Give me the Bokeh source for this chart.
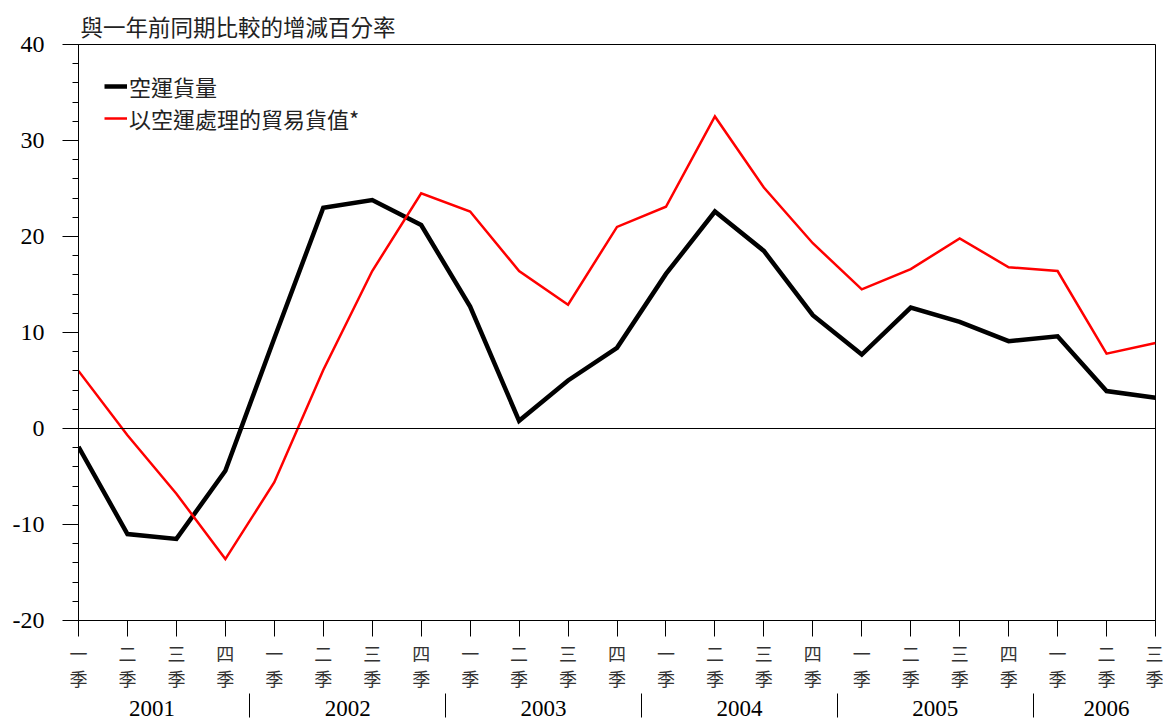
from bokeh.plotting import figure
from bokeh.models import Range1d, FixedTicker, LinearAxis, Span, Legend, LegendItem
from bokeh.embed import file_html
from bokeh.resources import INLINE

# ---- data ----
quarters = ["一\n季", "二\n季", "三\n季", "四\n季"] * 5 + ["一\n季", "二\n季", "三\n季"]
years = ["2001", "2002", "2003", "2004", "2005", "2006"]
year_centers = [1.5, 5.5, 9.5, 13.5, 17.5, 21.0]
year_separators = [3.5, 7.5, 11.5, 15.5, 19.5]
y_ticks = [-20, -10, 0, 10, 20, 30, 40]
y_tick_labels = ["-20", "-10", "0", "10", "20", "30", "40"]
air_cargo = [-1.9, -11.0, -11.5, -4.4, 9.4, 23.0, 23.8, 21.2, 12.7, 0.8, 5.0, 8.4,
             16.1, 22.6, 18.5, 11.8, 7.7, 12.6, 11.1, 9.1, 9.6, 3.9, 3.2]
trade_value = [6.0, -0.7, -6.8, -13.6, -5.6, 6.1, 16.4, 24.5, 22.6, 16.4, 12.9, 21.0,
               23.1, 32.5, 25.1, 19.3, 14.5, 16.6, 19.8, 16.8, 16.4, 7.8, 8.9]
series_names = ["空運貨量", "以空運處理的貿易貨值*"]
y_title = "與一年前同期比較的增減百分率"

x = list(range(len(air_cargo)))

CJK = "Noto Sans CJK TC"
SERIF = "Liberation Serif"

p = figure(width=1163, height=722, output_backend="svg", toolbar_location=None,
           x_range=Range1d(0, len(x) - 1), y_range=Range1d(-20, 40),
           min_border_left=78, min_border_right=8, min_border_top=44, min_border_bottom=102,
           x_axis_type=None, y_axis_type=None)

p.title.text = y_title
p.title.text_font = CJK
p.title.text_font_size = "22.5px"
p.title.text_font_style = "normal"
p.title.text_color = "#222222"
p.title.offset = 2
p.title.standoff = 5

p.grid.visible = False
p.background_fill_color = "white"
p.border_fill_color = "white"
p.outline_line_color = "black"
p.outline_line_width = 1
p.outline_line_alpha = 1

# y axis
yax = LinearAxis(ticker=FixedTicker(ticks=y_ticks,
                                    minor_ticks=list(range(-20, 41, 2))))
yax.major_label_overrides = {t: s for t, s in zip(y_ticks, y_tick_labels)}
yax.major_tick_out = 16
yax.major_tick_in = 0
yax.minor_tick_out = 6
yax.minor_tick_in = 0
yax.axis_line_color = "black"
yax.major_tick_line_color = "black"
yax.minor_tick_line_color = "black"
yax.major_label_text_font = SERIF
yax.major_label_text_font_size = "24px"
yax.major_label_text_color = "black"
yax.major_label_standoff = 18
p.add_layout(yax, "left")

# x axis (quarters)
xax = LinearAxis(ticker=FixedTicker(ticks=x, minor_ticks=[]))
xax.major_label_overrides = {i: q for i, q in zip(x, quarters)}
xax.major_tick_out = 16
xax.major_tick_in = 0
xax.axis_line_color = "black"
xax.major_tick_line_color = "black"
xax.major_label_text_font = CJK
xax.major_label_text_font_size = "18px"
xax.major_label_text_color = "#333333"
xax.major_label_text_line_height = 0.98
xax.major_label_standoff = 3
p.add_layout(xax, "below")

# year axis: labels at year centres, separators as minor ticks
yrax = LinearAxis(ticker=FixedTicker(ticks=year_centers, minor_ticks=year_separators))
yrax.major_label_overrides = {c: yname for c, yname in zip(year_centers, years)}
yrax.major_tick_out = 0
yrax.major_tick_in = 0
yrax.minor_tick_out = 24
yrax.minor_tick_in = 0
yrax.axis_line_color = None
yrax.major_tick_line_color = None
yrax.minor_tick_line_color = "black"
yrax.major_label_text_font = SERIF
yrax.major_label_text_font_size = "23px"
yrax.major_label_text_color = "black"
yrax.major_label_standoff = -17
p.add_layout(yrax, "below")

# zero line
p.add_layout(Span(location=0, dimension="width", line_color="black", line_width=1))

r1 = p.line(x, air_cargo, line_color="black", line_width=4.5, line_join="miter")
r2 = p.line(x, trade_value, line_color="#ff0000", line_width=2.5, line_join="miter")

legend = Legend(items=[LegendItem(label=series_names[0], renderers=[r1]),
                       LegendItem(label=series_names[1], renderers=[r2])],
                location="top_left")
legend.label_text_font = CJK
legend.label_text_font_size = "22px"
legend.label_text_color = "#222222"
legend.glyph_width = 23
legend.glyph_height = 20
legend.label_standoff = 2
legend.label_height = 20
legend.spacing = -2
legend.margin = 26
legend.padding = 7
legend.border_line_color = None
legend.background_fill_alpha = 0
p.add_layout(legend)

open("out.html", "w").write(file_html(p, INLINE))
